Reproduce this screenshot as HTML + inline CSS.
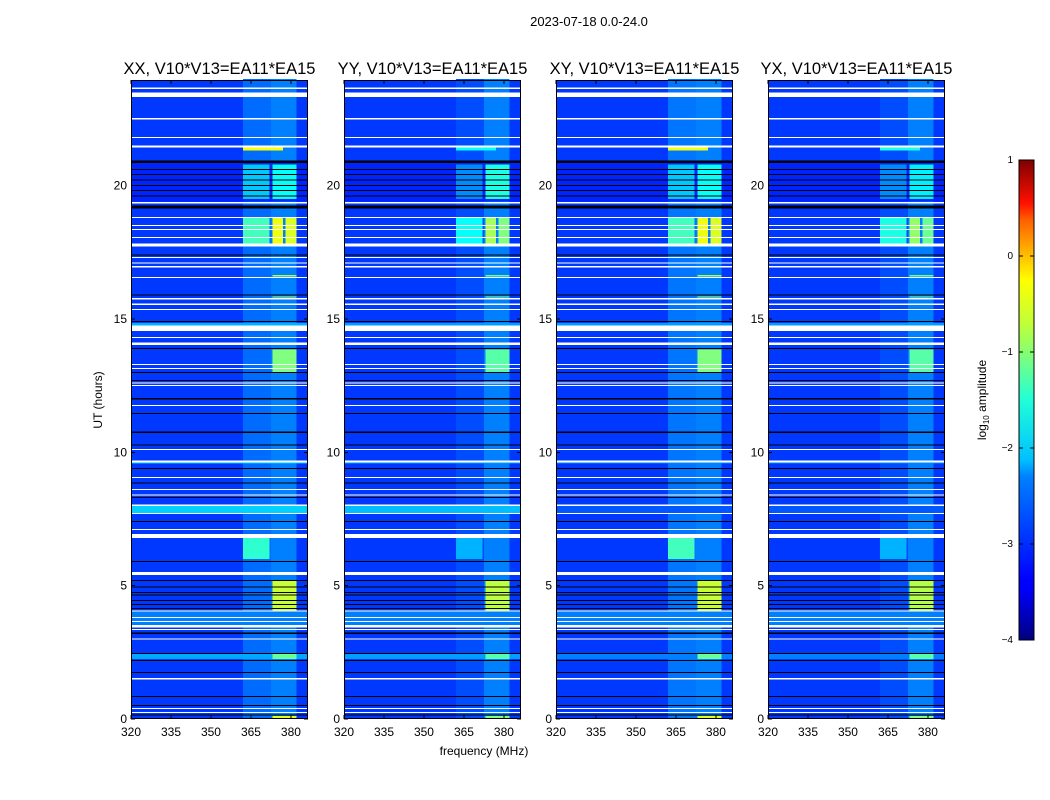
<!DOCTYPE html>
<html><head><meta charset="utf-8"><style>
body{margin:0;background:#fff;}
svg{display:block;font-family:"Liberation Sans",sans-serif;}
</style></head><body>
<svg id="fig" width="1050" height="800" viewBox="0 0 1050 800">
<defs>
<linearGradient id="jet" x1="0" y1="1" x2="0" y2="0">
<stop offset="0" stop-color="#00007f"/><stop offset="0.11" stop-color="#0000ff"/>
<stop offset="0.125" stop-color="#0000ff"/><stop offset="0.34" stop-color="#0080ff"/>
<stop offset="0.375" stop-color="#00c0ff"/><stop offset="0.5" stop-color="#20ffd8"/>
<stop offset="0.625" stop-color="#a0ff58"/><stop offset="0.66" stop-color="#c0ff38"/>
<stop offset="0.75" stop-color="#ffff00" /><stop offset="0.875" stop-color="#ff6000"/>
<stop offset="0.91" stop-color="#ff1000"/><stop offset="1" stop-color="#7f0000"/>
</linearGradient>
</defs>
<text x="589" y="26" font-size="13" text-anchor="middle">2023-07-18 0.0-24.0</text>
<text x="484" y="755" font-size="12" text-anchor="middle">frequency (MHz)</text>
<text x="102" y="400" font-size="12" text-anchor="middle" transform="rotate(-90 102 400)">UT (hours)</text>
<g id="panels"></g>
<g>
<rect x="1019" y="160" width="15" height="480" fill="url(#jet)" stroke="#000" stroke-width="1"/>
<g id="cbticks"></g>
<text x="986" y="400" font-size="12" text-anchor="middle" transform="rotate(-90 986 400)">log<tspan font-size="8" dy="3">10</tspan><tspan dy="-3"> amplitude</tspan></text>
</g>
</svg>
<script>
const panelTitles=["XX, V10*V13=EA11*EA15","YY, V10*V13=EA11*EA15","XY, V10*V13=EA11*EA15","YX, V10*V13=EA11*EA15"];
const panelX=[131,344,556,768];
const freqTicks=[320,335,350,365,380];
const timeTicks=[0,5,10,15,20];
const cbTicks=[1,0,-1,-2,-3,-4];
const cbLabels=["1","0","\u22121","\u22122","\u22123","\u22124"];
const baseLevel=-3.1;
// white (flagged) rows: [t_start, t_end] hours
const whiteRows=[[23.62,23.68],[23.33,23.5],[22.48,22.53],[21.78,21.83],[21.42,21.5],[19.33,19.38],[18.78,18.83],[18.48,18.52],[18.33,18.37],[18.03,18.08],[17.72,17.82],[17.28,17.33],[17.08,17.12],[16.93,16.98],[16.53,16.58],[15.73,15.78],[15.53,15.58],[15.33,15.38],[14.55,14.75],[14.28,14.33],[14.03,14.12],[13.28,13.32],[13.13,13.17],[12.58,12.62],[12.48,12.52],[11.73,11.78],[10.08,10.12],[9.62,9.7],[9.03,9.07],[8.58,8.62],[8.38,8.42],[7.98,8.05],[7.68,7.72],[7.08,7.12],[6.78,6.93],[5.4,5.52],[4.03,4.07],[3.78,3.82],[3.63,3.67],[3.43,3.52],[3.33,3.37],[2.98,3.02],[1.48,1.53],[0.38,0.42],[0.23,0.27]];
// black (zero) rows
const blackRows=[[20.85,20.95],[20.6,20.63],[20.4,20.43],[20.2,20.23],[20.0,20.03],[19.8,19.83],[19.6,19.63],[19.15,19.25],[17.38,17.42],[15.88,15.92],[14.88,14.92],[13.88,13.92],[12.98,13.02],[12.68,12.72],[11.98,12.04],[11.43,11.47],[10.73,10.78],[10.25,10.3],[9.38,9.42],[8.83,8.87],[8.28,8.32],[7.38,7.42],[5.88,5.92],[5.18,5.22],[4.93,4.97],[4.73,4.77],[4.63,4.67],[4.43,4.47],[4.28,4.32],[4.13,4.17],[3.18,3.24],[2.43,2.47],[2.18,2.22],[1.73,1.77],[0.83,0.87],[0.48,0.52],[0.13,0.17]];
// features: [t0, t1, f0 (MHz), f1 (MHz), level XX, YY, XY, YX]
const features=[
[0,24,362,372.5,-2.85,-3.0,-2.8,-3.0],
[0,24,372.5,382,-2.75,-2.75,-2.75,-2.75],
[19.4,20.9,320,387,-3.2,-3.2,-3.2,-3.2],
[19.5,20.8,362,372,-2.4,-2.7,-2.4,-2.7],
[21.32,21.42,362,377,-0.9,-2.1,-0.95,-2.0],
[17.83,18.78,362,372,-1.8,-2.1,-1.8,-2.0],
[17.83,18.78,373,377,-0.95,-1.3,-0.95,-1.4],
[17.83,18.78,378,382,-1.05,-1.5,-1.05,-1.6],
[16.6,16.65,373,382,-1.3,-1.6,-1.3,-1.6],
[15.8,15.85,373,382,-1.3,-1.6,-1.3,-1.6],
[19.5,20.8,373,382,-2.1,-2.0,-2.1,-2.2],
[13.0,13.85,373,382,-1.5,-1.7,-1.5,-1.7],
[3.7,5.2,373,382,-1.15,-1.2,-1.15,-1.25],
[6.0,6.8,362,372,-1.9,-2.5,-1.8,-2.5],
[2.25,2.45,320,387,-2.55,-2.6,-2.75,-2.75],
[2.25,2.45,373,382,-1.6,-1.7,-1.6,-1.7],
[0.03,0.12,373,382,-1.0,-1.5,-1.0,-1.5],
[7.72,7.98,320,387,-2.35,-2.45,-2.95,-2.95],
[9.58,9.62,320,387,-2.4,-2.6,-2.7,-2.7],
[14.75,14.85,320,387,-2.5,-2.6,-2.6,-2.6],
[3.52,4.03,320,387,-2.75,-2.75,-2.75,-2.75]
];
const NS="http://www.w3.org/2000/svg";
const W=177,Y0=719,PXH=26.67,PXF=W/66.4;
function xs(p,f){return panelX[p]+(f-320)*PXF;}
function ys(t){return Y0-t*PXH;}
function jet(v){const t=Math.max(0,Math.min(1,(v+4)/5));
 const c=x=>Math.round(255*Math.max(0,Math.min(1,1.5-Math.abs(4*t-x))));
 return `rgb(${c(3)},${c(2)},${c(1)})`;}
function mk(tag,attrs,parent){const e=document.createElementNS(NS,tag);for(const k in attrs)e.setAttribute(k,attrs[k]);parent.appendChild(e);return e;}
const G=document.getElementById('panels');
for(let p=0;p<4;p++){
 const g=mk('g',{'shape-rendering':'crispEdges'},G);
 
 
 const x0=panelX[p];
 const bg=mk('rect',{x:x0,y:80,width:W,height:639,fill:jet(baseLevel)},g);
 
 
 features.forEach(ft=>{
  const fx0=xs(p,ft[2]),fx1=Math.min(xs(p,ft[3]),x0+W);
  const r=mk('rect',{x:fx0,y:ys(ft[1]),width:fx1-fx0,height:(ft[1]-ft[0])*PXH,fill:jet(ft[4+p])},g);
  
  
 });
 blackRows.forEach(b=>{
  const r=mk('rect',{x:x0,y:ys(b[1]),width:W,height:Math.max(1,(b[1]-b[0])*PXH),fill:'#000'},g);
  
  
 });
 whiteRows.forEach(b=>{
  const r=mk('rect',{x:x0,y:ys(b[1]),width:W,height:Math.max(1,(b[1]-b[0])*PXH),fill:'#fff'},g);
  
  
 });
 const fr=mk('rect',{x:x0+0.5,y:80.5,width:W-1,height:638,fill:'none',stroke:'#000','stroke-width':1},g);
 
 
 const tt=mk('text',{x:x0+W/2,y:74,'font-size':16.5,'text-anchor':'middle'},g);
 tt.textContent=panelTitles[p];
 
 
 freqTicks.forEach(f=>{
  const x=xs(p,f);
  mk('line',{x1:x,x2:x,y1:719,y2:715,stroke:'#000'},g);
  mk('line',{x1:x,x2:x,y1:80,y2:84,stroke:'#000'},g);
  const l=mk('text',{x:x,y:736,'font-size':12,'text-anchor':'middle'},g);
  l.textContent=f;
  
  
 });
 timeTicks.forEach(t=>{
  const y=ys(t);
  mk('line',{x1:x0,x2:x0+4,y1:y,y2:y,stroke:'#000'},g);
  mk('line',{x1:x0+W,x2:x0+W-4,y1:y,y2:y,stroke:'#000'},g);
  const l=mk('text',{x:x0-4,y:y+4,'font-size':12,'text-anchor':'end'},g);
  l.textContent=t;
  
  
 });
}
const CB=document.getElementById('cbticks');
cbTicks.forEach((v,i)=>{
 const y=160+(1-v)*96;
 mk('line',{x1:1019,x2:1023,y1:y,y2:y,stroke:'#000'},CB);
 mk('line',{x1:1034,x2:1030,y1:y,y2:y,stroke:'#000'},CB);
 const l=mk('text',{x:1013,y:y+3,'font-size':10,'text-anchor':'end'},CB);
 l.textContent=cbLabels[i];
 
 
});
</script>
</body></html>
